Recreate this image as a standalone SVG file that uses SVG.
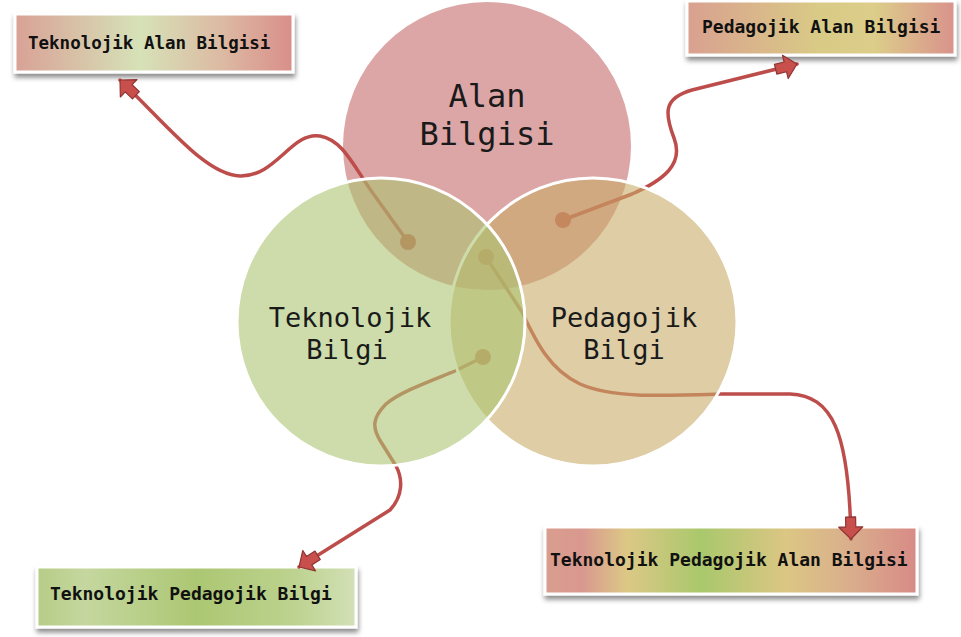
<svg xmlns="http://www.w3.org/2000/svg" width="961" height="637" viewBox="0 0 961 637">
<style>
.box{stroke:#ffffff;stroke-width:3;filter:url(#sh)}
.bt{font-family:"DejaVu Sans Mono","Liberation Mono",monospace;font-weight:bold;font-size:17.5px;fill:#111}
.ct{font-family:"DejaVu Sans Mono","Liberation Mono",monospace;fill:#1a1a1a;text-anchor:middle}
.con{fill:none;stroke:#bd4d4b;stroke-width:3.5;stroke-linecap:round;stroke-linejoin:round}
.dot{fill:#c0504d}
.arr{marker-end:url(#ah)}
</style>
<defs>
<filter id="sh" x="-10%" y="-20%" width="125%" height="160%">
<feDropShadow dx="1" dy="4" stdDeviation="2.5" flood-color="#000" flood-opacity="0.45"/>
</filter>
<marker id="ah" viewBox="-2 -14 26 28" markerWidth="26" markerHeight="28" refX="22" refY="0" orient="auto" markerUnits="userSpaceOnUse">
<path d="M0,-5 L10,-5 L10,-12 L22,0 L10,12 L10,5 L0,5 Z" fill="#c94f4c" stroke="#8e3533" stroke-width="1.2" stroke-linejoin="round"/>
</marker>
<linearGradient id="g1" x1="0" y1="0" x2="1" y2="0">
<stop offset="0" stop-color="#d9a196"/>
<stop offset="0.45" stop-color="#d6e2b8"/>
<stop offset="0.75" stop-color="#dcb9a2"/>
<stop offset="1" stop-color="#d98e8a"/>
</linearGradient>
<linearGradient id="g2" x1="0" y1="0" x2="1" y2="0">
<stop offset="0" stop-color="#d9a090"/>
<stop offset="0.5" stop-color="#d9cb86"/>
<stop offset="0.7" stop-color="#dccd8a"/>
<stop offset="1" stop-color="#d9928c"/>
</linearGradient>
<linearGradient id="g3" x1="0" y1="0" x2="1" y2="0">
<stop offset="0" stop-color="#b6cc86"/>
<stop offset="0.15" stop-color="#c5d79f"/>
<stop offset="0.5" stop-color="#acc773"/>
<stop offset="0.8" stop-color="#bcd28e"/>
<stop offset="1" stop-color="#d3e0b6"/>
</linearGradient>
<linearGradient id="g4" x1="0" y1="0" x2="1" y2="0">
<stop offset="0" stop-color="#d99e8e"/>
<stop offset="0.1" stop-color="#d9988f"/>
<stop offset="0.22" stop-color="#dcc886"/>
<stop offset="0.42" stop-color="#a9c86c"/>
<stop offset="0.65" stop-color="#dcc684"/>
<stop offset="0.82" stop-color="#d9ae8c"/>
<stop offset="1" stop-color="#d88a86"/>
</linearGradient>
</defs>

<g id="box-tab">
<rect class="box" x="15" y="14" width="278" height="58" fill="url(#g1)"/>
<text class="bt" x="28" y="49">Teknolojik Alan Bilgisi</text>
</g>
<g id="box-pab">
<rect class="box" x="687" y="1" width="268" height="54" fill="url(#g2)"/>
<text class="bt" x="702" y="33" style="font-size:18px">Pedagojik Alan Bilgisi</text>
</g>
<g id="box-tpb">
<rect class="box" x="37" y="567" width="319" height="60" fill="url(#g3)"/>
<text class="bt" x="50" y="600" style="font-size:18px">Teknolojik Pedagojik Bilgi</text>
</g>
<g id="box-tpab">
<rect class="box" x="545" y="527" width="372" height="67" fill="url(#g4)"/>
<text class="bt" x="550" y="566" style="font-size:18px">Teknolojik Pedagojik Alan Bilgisi</text>
</g>

<g id="circle-alan">
<circle cx="487" cy="146" r="144" fill="#dda6a6"/>
<text class="ct" x="487" y="107" font-size="32">Alan</text>
<text class="ct" x="487" y="145" font-size="32">Bilgisi</text>
</g>

<g id="connectors">
<path class="con arr" d="M408,242 L372,192 C352,163 342,140 320,136 C292,131 276,177 240,176 C206,175 168,126 120,80"/>
<circle class="dot" cx="408" cy="242" r="8"/>
<path class="con arr" d="M563,220 L632,194 C664,180 684,164 674,138 C664,112 664,98 692,90 L797,64"/>
<circle class="dot" cx="563" cy="220" r="8"/>
<path class="con arr" d="M486,257 L522,312 C536,342 550,370 580,384 C612,398 660,396 720,394 L790,394 C832,396 849,430 851,539"/>
<circle class="dot" cx="486" cy="257" r="8"/>
<path class="con arr" d="M483,357 L455,371 C428,382 400,392 386,404 C372,418 372,428 381,442 L396,466 C403,479 403,496 390,510 L299,567"/>
<circle class="dot" cx="483" cy="357" r="8"/>
</g>

<g id="circle-pedagojik">
<circle cx="593" cy="322" r="144" fill="#c8ac69" fill-opacity="0.6" stroke="#ffffff" stroke-width="3"/>
<text class="ct" x="624" y="327" font-size="27">Pedagojik</text>
<text class="ct" x="624" y="359" font-size="27">Bilgi</text>
</g>

<g id="circle-teknolojik">
<circle cx="381" cy="322" r="144" fill="#acc571" fill-opacity="0.6" stroke="#ffffff" stroke-width="3"/>
<text class="ct" x="350" y="327" font-size="27">Teknolojik</text>
<text class="ct" x="347" y="359" font-size="27">Bilgi</text>
</g>
</svg>
